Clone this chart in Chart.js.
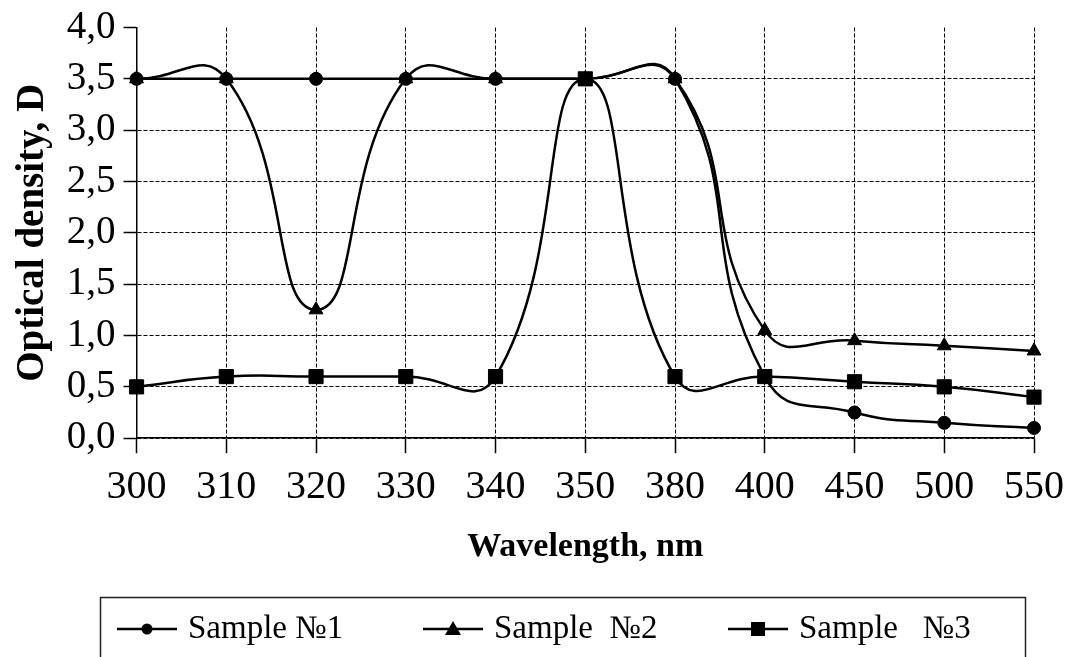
<!DOCTYPE html>
<html>
<head>
<meta charset="utf-8">
<title>Optical density</title>
<script src="https://cdn.jsdelivr.net/npm/chart.js@4.4.1/dist/chart.umd.min.js"></script>
<style>
  html, body { margin: 0; padding: 0; background: #fff; }
  #wrap { width: 1069px; height: 657px; }
</style>
</head>
<body>
<div id="wrap"><canvas id="densityChart"></canvas></div>
<script>
const wavelengths = ["300", "310", "320", "330", "340", "350", "380", "400", "450", "500", "550"];
const sample1 = [3.5, 3.5, 3.5, 3.5, 3.5, 3.5, 3.5, 0.6, 0.25, 0.15, 0.1];
const sample2 = [3.5, 3.5, 1.25, 3.5, 3.5, 3.5, 3.5, 1.05, 0.95, 0.9, 0.85];
const sample3 = [0.5, 0.6, 0.6, 0.6, 0.6, 3.5, 0.6, 0.6, 0.55, 0.5, 0.4];
const seriesNames = ["Sample №1", "Sample  №2", "Sample   №3"];

const serif = "'Liberation Serif', 'Times New Roman', serif";

function lineSet(label, data, style, radius) {
    return {
        label: label,
        data: data,
        borderColor: '#000',
        backgroundColor: '#000',
        borderWidth: 2.5,
        pointStyle: style,
        pointRadius: radius,
        pointHoverRadius: radius,
        pointBorderWidth: 1,
        tension: 0.5,
        fill: false
    };
}

// legend drawn by hand: framed strip at the bottom, "line + marker" then name
const legendStrip = {
    id: 'legendStrip',
    afterDraw(chart) {
        const ctx = chart.ctx;
        const slots = [117, 423, 728];   // left end of each marker line
        const cy = 629;
        ctx.save();
        ctx.strokeStyle = '#222';
        ctx.lineWidth = 1.5;
        ctx.strokeRect(100.5, 597.5, 925, 80);

        chart.data.datasets.forEach((ds, i) => {
            const x0 = slots[i];
            ctx.strokeStyle = '#000';
            ctx.fillStyle = '#000';
            ctx.lineWidth = 2.5;
            ctx.beginPath();
            ctx.moveTo(x0, cy);
            ctx.lineTo(x0 + 60, cy);
            ctx.stroke();
            const mx = x0 + 30;
            ctx.beginPath();
            if (ds.pointStyle === 'circle') {
                ctx.arc(mx, cy, 5.5, 0, Math.PI * 2);
            } else if (ds.pointStyle === 'triangle') {
                ctx.moveTo(mx, cy - 8);
                ctx.lineTo(mx + 8, cy + 6);
                ctx.lineTo(mx - 8, cy + 6);
                ctx.closePath();
            } else {
                ctx.rect(mx - 7, cy - 7, 14, 14);
            }
            ctx.fill();

            ctx.font = '33px ' + serif;
            ctx.textBaseline = 'middle';
            ctx.textAlign = 'left';
            ctx.fillText(ds.label, x0 + 71, cy);
        });
        ctx.restore();
    }
};

const ctx = document.getElementById('densityChart').getContext('2d');
const densityChart = new Chart(ctx, {
    type: 'line',
    data: {
        labels: wavelengths,
        datasets: [
            lineSet(seriesNames[0], sample1, 'circle', 6.5),
            lineSet(seriesNames[1], sample2, 'triangle', 8),
            lineSet(seriesNames[2], sample3, 'rect', 10)
        ]
    },
    plugins: [legendStrip],
    options: {
        responsive: true,
        maintainAspectRatio: false,
        animation: false,
        layout: {
            padding: { top: 23, left: 10, right: 29, bottom: 89 }
        },
        scales: {
            x: {
                type: 'category',
                offset: false,
                grid: {
                    color: '#000',
                    lineWidth: 1,
                    tickColor: '#000',
                    tickLength: 15,
                    tickWidth: 1.5
                },
                border: { display: true, color: '#000', width: 1.5, dash: [4, 2] },
                ticks: {
                    color: '#000',
                    padding: 5,
                    maxRotation: 0,
                    font: { family: serif, size: 40, lineHeight: 1.45 }
                },
                title: {
                    display: true,
                    text: 'Wavelength, nm',
                    color: '#000',
                    padding: { top: 6, bottom: 0 },
                    font: { family: serif, size: 34, weight: 'bold' }
                }
            },
            y: {
                min: 0,
                max: 4,
                grid: {
                    color: (c) => (c.tick && c.tick.value === 4 ? 'rgba(0,0,0,0)' : '#000'),
                    lineWidth: 1,
                    tickColor: '#000',
                    tickLength: 13,
                    tickWidth: 1.5
                },
                border: { display: true, color: '#000', width: 1.5, dash: [4, 2] },
                ticks: {
                    stepSize: 0.5,
                    autoSkip: false,
                    color: '#000',
                    padding: 8,
                    font: { family: serif, size: 39, lineHeight: 1 },
                    callback: (v) => v.toFixed(1).replace('.', ',')
                },
                title: {
                    display: true,
                    text: 'Optical density, D',
                    color: '#000',
                    padding: { top: 0, bottom: 2 },
                    font: { family: serif, size: 39, weight: 'bold' }
                }
            }
        },
        plugins: {
            legend: { display: false },
            tooltip: { enabled: false }
        }
    }
});
</script>
</body>
</html>
